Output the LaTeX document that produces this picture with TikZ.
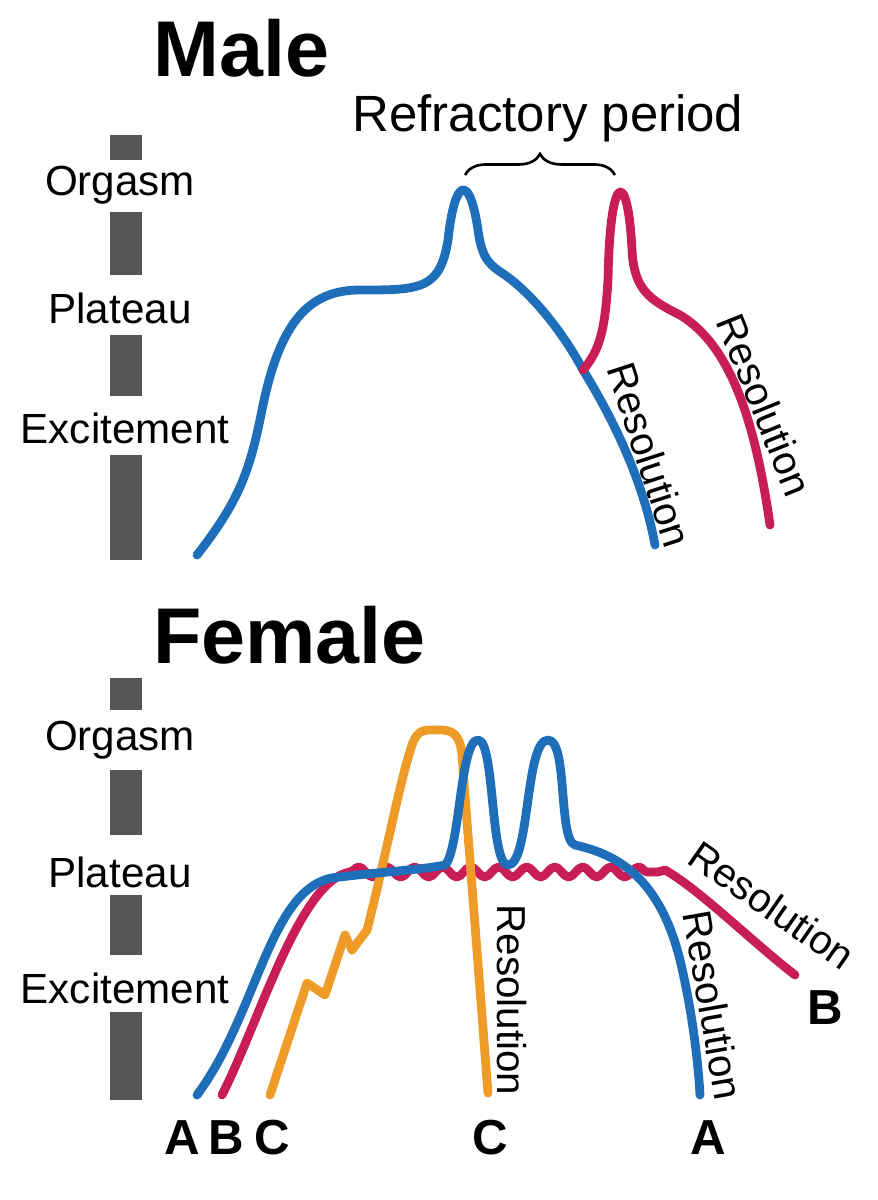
\documentclass[tikz,border=0pt]{standalone}
\usepackage{fontspec}
\setmainfont{Liberation Sans}
\usetikzlibrary{decorations.pathmorphing,decorations.pathreplacing}
\definecolor{cblue}{RGB}{30,110,185}
\definecolor{cred}{RGB}{200,30,85}
\definecolor{corange}{RGB}{238,155,40}
\definecolor{cbar}{RGB}{85,85,85}
\begin{document}
\begin{tikzpicture}[x=0.02cm,y=-0.02cm,
  curve/.style={line width=5pt,line cap=round,line join=round},
  bar/.style={fill=cbar,draw=none},
  lab/.style={font=\fontsize{24}{24}\selectfont},
  res/.style={font=\fontsize{23}{23}\selectfont},
  title/.style={font=\fontsize{45}{45}\selectfont\bfseries},
  letter/.style={font=\fontsize{28}{28}\selectfont\bfseries}]
\useasboundingbox (0,0) rectangle (877,1200);
% Male
\node[title,anchor=west] (mt) at (147,48) {Male};
\foreach \a/\b in {135/160,212/275,335/396,455/560} \fill[bar] (110,\a) rectangle (142,\b);
\foreach \a/\b in {678/710,770/835,895/955,1012/1100} \fill[bar] (110,\a) rectangle (142,\b);
\node[lab] (mo) at (120,185) {Orgasm};
\node[lab] (mp) at (120,308) {Plateau};
\node[lab] (me) at (125,428) {Excitement};
\coordinate (mb0) at (197,555);
\coordinate (mj) at (583,370);
\draw[curve,cblue] (mb0) .. controls (240,500) and (250,470) .. (262,410)
  .. controls (280,320) and (310,290) .. (360,290)
  .. controls (420,290) and (440,290) .. (448,240)
  .. controls (455,175) and (470,175) .. (478,230)
  .. controls (482,260) and (490,265) .. (505,275)
  .. controls (540,300) and (570,345) .. (mj)
  .. controls (620,430) and (645,490) .. (655,545);
\draw[curve,cred] (mj) .. controls (600,350) and (605,330) .. (608,280)
  .. controls (610,168) and (628,168) .. (632,250)
  .. controls (634,290) and (650,300) .. (680,315)
  .. controls (730,345) and (755,420) .. (770,525);
\draw[line width=1.5pt,decorate,decoration={brace,amplitude=12pt}] (465,175) -- (615,175);
\node[font=\fontsize{29}{29}\selectfont] (rp) at (548,118) {Refractory period};
\node[res,rotate=-72] (r1) at (650,455) {Resolution};
\node[res,rotate=-68] (r2) at (765,405) {Resolution};
% Female
\node[title,anchor=west] (ft) at (147,635) {Female};
\node[lab] (fo) at (120,740) {Orgasm};
\node[lab] (fp) at (120,872) {Plateau};
\node[lab] (fe) at (125,988) {Excitement};
\coordinate (rb0) at (222,1095);
\coordinate (rw0) at (350,872);
\coordinate (rw1) at (658,872);
\draw[curve,cred] (rb0) .. controls (260,1020) and (300,880) .. (rw0);
\draw[curve,cred,decorate,decoration={snake,amplitude=0.1cm,segment length=0.56cm}] (rw0) -- (rw1);
\draw[curve,cred] (rw1) -- (665,870) .. controls (700,890) and (750,940) .. (795,975);
\draw[curve,corange] (270,1095) -- (307,983) -- (325,995) -- (345,935) -- (352,950) -- (367,930)
  .. controls (385,860) and (400,780) .. (412,745)
  .. controls (418,728) and (425,730) .. (440,730)
  .. controls (458,730) and (462,740) .. (463,770)
  -- (488,1093);
\draw[curve,cblue] (197,1095) .. controls (260,1010) and (270,880) .. (340,877)
  .. controls (380,872) and (420,870) .. (445,865)
  .. controls (460,850) and (460,740) .. (478,740)
  .. controls (495,740) and (490,865) .. (508,865)
  .. controls (530,865) and (525,740) .. (548,740)
  .. controls (568,740) and (558,840) .. (575,845)
  .. controls (620,855) and (660,880) .. (680,960)
  .. controls (692,1010) and (698,1060) .. (700,1095);
\node[res,rotate=-90] (r3) at (512,1000) {Resolution};
\node[res,rotate=-80] (r4) at (713,1005) {Resolution};
\node[res,rotate=-35] (r5) at (772,905) {Resolution};
\node[letter] (la) at (182,1138) {A};
\node[letter] (lb) at (226,1138) {B};
\node[letter] (lc) at (272,1138) {C};
\node[letter] (lc2) at (490,1138) {C};
\node[letter] (la2) at (708,1138) {A};
\node[letter] (lb2) at (825,1008) {B};
\end{tikzpicture}
\end{document}
